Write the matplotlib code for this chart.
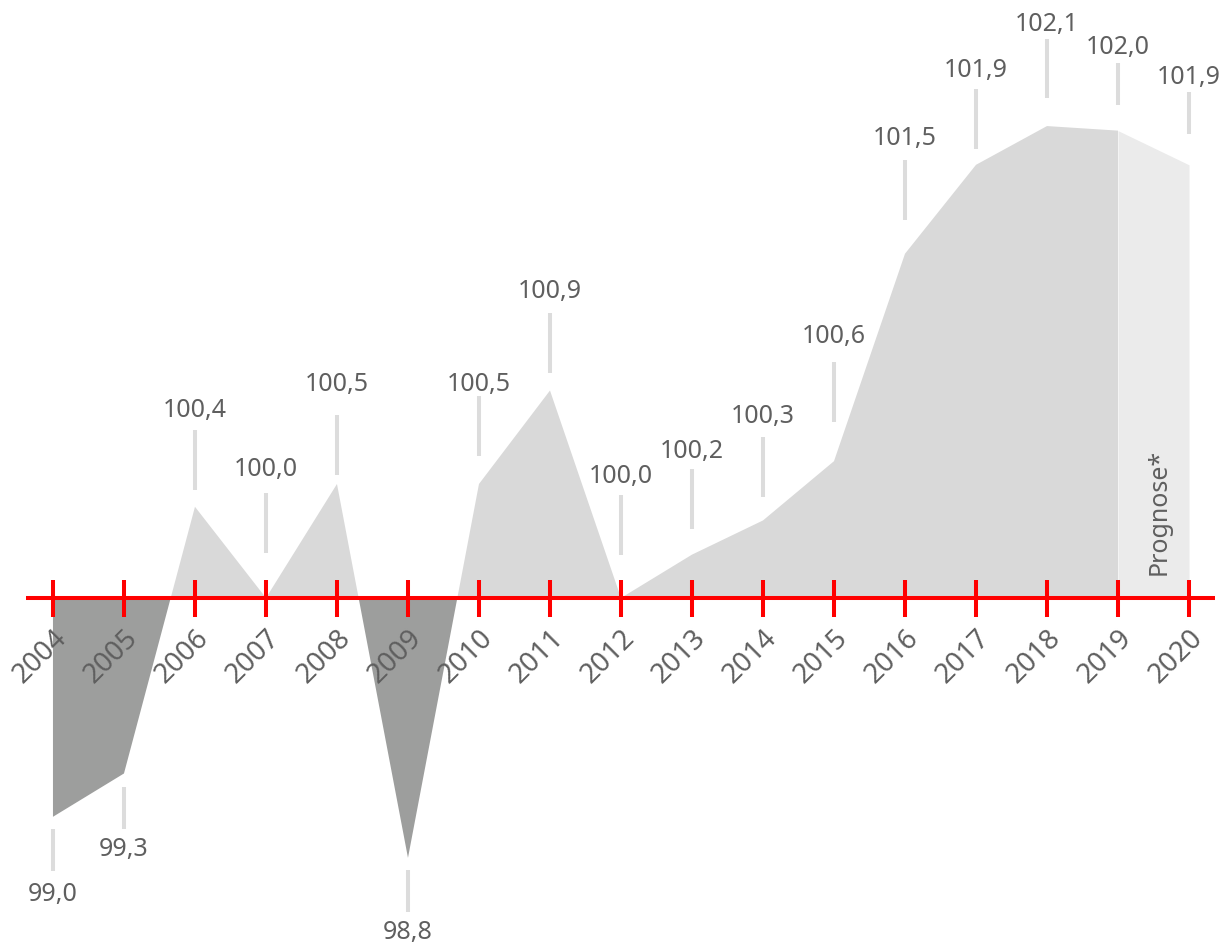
import matplotlib
matplotlib.use("Agg")
import matplotlib.pyplot as plt
import numpy as np

plt.rcParams.update({"font.family": ["Noto Sans", "DejaVu Sans"]})

# ---- data ----
years = [2004, 2005, 2006, 2007, 2008, 2009, 2010, 2011, 2012,
         2013, 2014, 2015, 2016, 2017, 2018, 2019, 2020]
values = [99.04, 99.23, 100.40, 100.00, 100.50, 98.86, 100.50, 100.91, 100.00,
          100.19, 100.34, 100.60, 101.51, 101.90, 102.07, 102.05, 101.90]
labels = ["99,0", "99,3", "100,4", "100,0", "100,5", "98,8", "100,5", "100,9", "100,0",
          "100,2", "100,3", "100,6", "101,5", "101,9", "102,1", "102,0", "101,9"]
forecast_from = 2019
baseline = 100.0

# label layout (pixels): point->leader gap, leader length, leader->text gap
lead_gap = [12, 14, 17, 45, 9, 12, 28, 18, 43, 26, 23, 39, 34, 16, 28, 26, 31]
lead_len = [42, 42, 60, 60, 60, 42, 60, 60, 60, 60, 60, 60, 60, 60, 59, 42, 42]
text_gap = [12, 9, 13, 17, 24, 9, 5, 15, 12, 11, 14, 19, 15, 12, 8, 9, 8]

RED = "#ff0000"
POS = "#d9d9d9"
NEG = "#9d9e9d"
FC = "#ebebeb"
TXT = "#5f5f5f"
LEAD = "#dcdcdc"

W, H = 1225, 944
fig = plt.figure(figsize=(W / 100, H / 100), dpi=100)
ax = fig.add_axes([0, 0, 1, 1])
ax.set_xlim(2003.254, 2020.507)
ax.set_ylim(98.482, 102.623)
ax.axis("off")
px = (102.623 - 98.482) / H  # data units per pixel (y)
pxx = (2020.507 - 2003.254) / W

x = np.array(years, dtype=float)
y = np.array(values)
hist = x <= forecast_from
fut = x >= forecast_from

ax.fill_between(x[hist], baseline, y[hist], where=y[hist] >= baseline,
                interpolate=True, color=POS, lw=0, zorder=1)
ax.fill_between(x[hist], baseline, y[hist], where=y[hist] <= baseline,
                interpolate=True, color=NEG, lw=0, zorder=1)
ax.fill_between(x[fut], baseline, y[fut], color=FC, lw=0, zorder=1)

# red axis with ticks
ax.plot([years[0] - 27 * pxx, years[-1] + 26 * pxx], [baseline, baseline],
        color=RED, lw=2.9, solid_capstyle="butt", zorder=3)
for yr in years:
    ax.plot([yr, yr], [baseline - 19 * px, baseline + 18 * px], color=RED,
            lw=2.9, solid_capstyle="butt", zorder=3)
    ax.annotate(str(yr), (yr, baseline), xytext=(10, -36), textcoords="offset pixels",
                rotation=45, rotation_mode="anchor", ha="right", va="center",
                fontsize=20, color=TXT)

# value labels with leader lines
DIGIT_H = 18
for yr, v, lab, g, ln, tg in zip(years, values, labels, lead_gap, lead_len, text_gap):
    if v >= baseline:
        y0 = v + g * px
        y1 = y0 + ln * px
        ty = y1 + tg * px
    else:
        y0 = v - g * px
        y1 = y0 - ln * px
        ty = y1 - (tg + DIGIT_H) * px
    ax.plot([yr, yr], [y0, y1], color=LEAD, lw=2.9, solid_capstyle="butt", zorder=2)
    ax.text(yr, ty, lab, ha="center", va="baseline", fontsize=18, color=TXT)

ax.text((forecast_from + years[-1]) / 2 + 0.08, baseline + 23 * px, "Prognose*",
        rotation=90, ha="center", va="bottom", fontsize=18, color=TXT)

fig.savefig("out.png", dpi=100)
